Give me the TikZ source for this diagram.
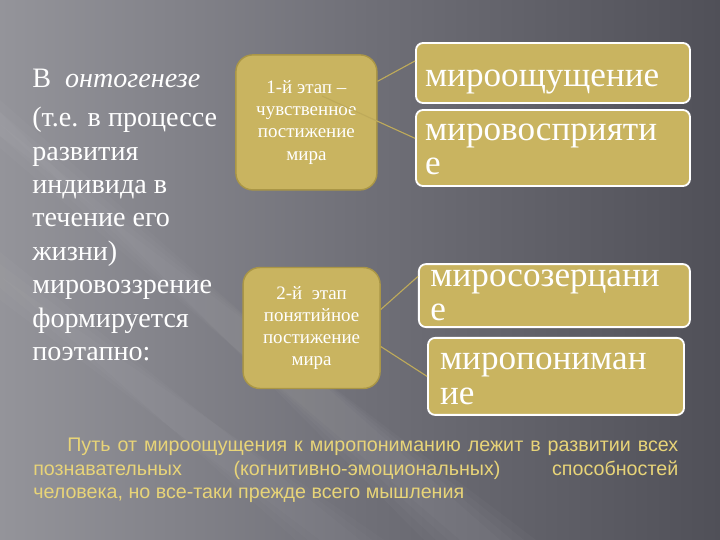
\documentclass[tikz,border=0pt]{standalone}
\usepackage{fontspec}
\setmainfont{Liberation Serif}
\setsansfont{Liberation Sans}
\usetikzlibrary{positioning}

\definecolor{bgdark}{RGB}{80,80,88}
\definecolor{bgmid}{RGB}{112,112,120}
\definecolor{bglight}{RGB}{148,148,154}
\definecolor{gold}{RGB}{201,180,96}
\definecolor{goldedge}{RGB}{170,150,70}
\definecolor{goldline}{RGB}{190,170,90}
\definecolor{captext}{RGB}{232,212,120}

% text set a little lower inside its box
\newcommand{\sinktext}[2]{\raisebox{-#1}[0pt][0pt]{\begin{tabular}{@{}l@{}}#2\end{tabular}}}

\begin{document}
\begin{tikzpicture}[
      stage/.style={draw=goldedge, line width=1pt, fill=gold, rounded corners=12pt, align=center, text=white, font=\fontsize{13.5}{15.8}\selectfont, inner sep=2pt},
      term/.style={draw=white, line width=1.3pt, fill=gold, rounded corners=5pt, align=left, text=white, font=\fontsize{25}{24.5}\selectfont, inner sep=0pt},
      link/.style={draw=goldline, line width=0.8pt}
    ]
      % background
      \shade[left color=bglight, right color=bgdark, middle color=bgmid] (0,0) rectangle (18,13.5);
      \foreach \d in {0,0.3,0.6,0.9}
        \fill[white, opacity=0.025] (0,11-\d) -- (0,9.8+\d) -- (11.5-\d,0) -- (12.5+\d,0) -- cycle;
      \foreach \d in {0,0.3,0.6}
        \fill[white, opacity=0.02] (0,7.2-\d) -- (0,6+\d) -- (8-\d,0) -- (9+\d,0) -- cycle;
      \useasboundingbox (0,0) rectangle (18,13.5);

      \node[anchor=north west, align=left, text=white, inner sep=0pt, font=\fontsize{20}{23.8}\selectfont] (intro) at (0.8,11.78)
        {В \ \textit{онтогенезе}\\[4pt](т.е. в процессе\\развития\\индивида в\\течение его\\жизни)\\мировоззрение\\формируется\\поэтапно:};

      \node[stage, minimum width=3.525cm, minimum height=3.375cm] (stage1) at (7.66,10.44) {1-й этап –\\чувственное\\постижение\\мира};
      \node[stage, minimum width=3.425cm, minimum height=3.025cm] (stage2) at (7.79,5.3) {2-й \ этап\\понятийное\\постижение\\мира};

      \node[term, minimum width=6.85cm, minimum height=1.5cm, text width=6.4cm] (feel) at (13.825,11.675) {\sinktext{11pt}{мироощущение}};
      \node[term, minimum width=6.85cm, minimum height=1.9cm, text width=6.4cm] (percept) at (13.825,9.8) {\sinktext{8pt}{мировосприяти\\е}};
      \node[term, minimum width=6.775cm, minimum height=1.575cm, text width=6.2cm] (contempl) at (13.86,6.11) {\sinktext{7pt}{миросозерцани\\е}};
      \node[term, minimum width=6.4cm, minimum height=1.925cm, text width=5.8cm] (underst) at (13.9,4.09) {\sinktext{9pt}{миропониман\\ие}};

      \coordinate (inner1) at (8.05,11.1);
      \draw[link] (stage1.30) -- (feel.175);
      \draw[link] (inner1) -- (percept.176);
      \draw[link] (stage2.15) -- (contempl.172);
      \draw[link] (stage2.345) -- (underst.west);

      \node[anchor=north west, text width=16.125cm, align=justify, text=captext, inner sep=0pt, font=\sffamily\fontsize{14}{16.7}\selectfont] (summary) at (0.825,2.55)
        {\hspace*{0.85cm}Путь от мироощущения к миропониманию лежит в развитии всех\linebreak познавательных (когнитивно-эмоциональных) способностей\linebreak человека, но все-таки прежде всего мышления};
    \end{tikzpicture}
\end{document}
